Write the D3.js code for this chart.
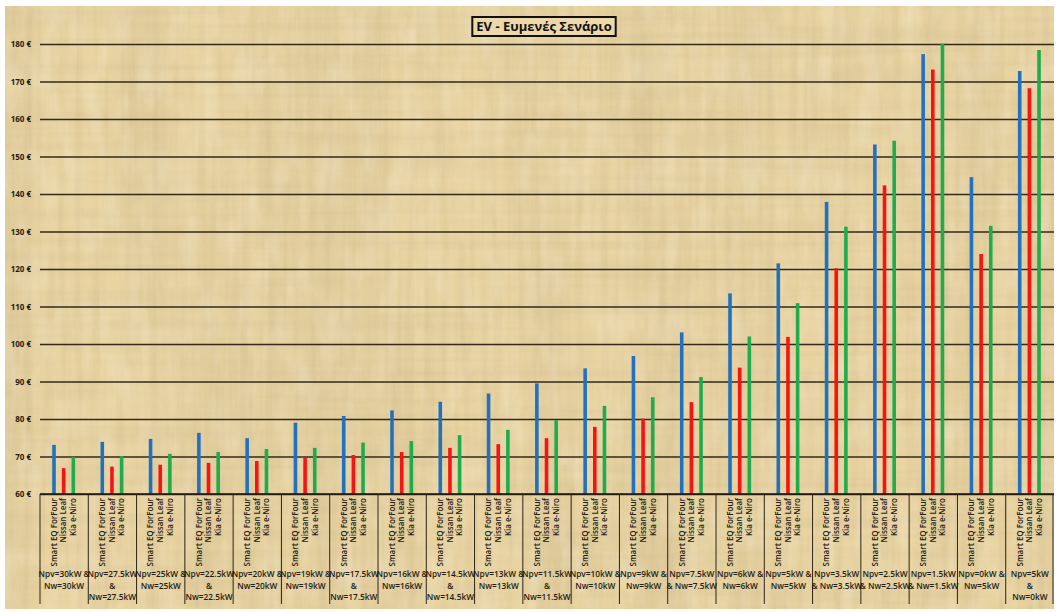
<!DOCTYPE html>
<html>
<head>
<meta charset="utf-8">
<script src="https://cdn.jsdelivr.net/npm/d3@7"></script>
<style>
  html, body { margin: 0; padding: 0; background: #ffffff; }
  svg { display: block; }
  text { font-family: "Open Sans", "Noto Sans", "DejaVu Sans", sans-serif; }
</style>
</head>
<body>
<svg id="chart" width="1056" height="613"></svg>
<script>
// Monthly cost per scenario (€), one array per vehicle
const categories = [
  "Npv=30kW &\nNw=30kW", "Npv=27.5kW\n&\nNw=27.5kW", "Npv=25kW &\nNw=25kW",
  "Npv=22.5kW\n&\nNw=22.5kW", "Npv=20kW &\nNw=20kW", "Npv=19kW &\nNw=19kW",
  "Npv=17.5kW\n&\nNw=17.5kW", "Npv=16kW &\nNw=16kW", "Npv=14.5kW\n&\nNw=14.5kW",
  "Npv=13kW &\nNw=13kW", "Npv=11.5kW\n&\nNw=11.5kW", "Npv=10kW &\nNw=10kW",
  "Npv=9kW &\nNw=9kW", "Npv=7.5kW\n& Nw=7.5kW", "Npv=6kW &\nNw=6kW",
  "Npv=5kW &\nNw=5kW", "Npv=3.5kW\n& Nw=3.5kW", "Npv=2.5kW\n& Nw=2.5kW",
  "Npv=1.5kW\n& Nw=1.5kW", "Npv=0kW &\nNw=5kW", "Npv=5kW\n&\nNw=0kW"
];
const seriesNames = ["Smart EQ ForFour", "Nissan Leaf", "Kia e-Niro"];
const smartEQ    = [73.1, 73.9, 74.7, 76.3, 74.9, 79.0, 80.8, 82.3, 84.6, 86.8, 89.5, 93.5, 96.8, 103.1, 113.5, 121.5, 137.9, 153.2, 177.3, 144.5, 172.8];
const nissanLeaf = [66.9, 67.3, 67.8, 68.3, 68.8, 69.6, 70.4, 71.2, 72.3, 73.3, 74.9, 77.9, 80.1, 84.5, 93.7, 101.9, 120.2, 142.3, 173.2, 124.0, 168.2];
const kiaENiro   = [69.9, 70.1, 70.7, 71.2, 72.0, 72.3, 73.7, 74.1, 75.7, 77.1, 79.7, 83.5, 85.8, 91.2, 102.0, 110.9, 131.3, 154.2, 180.1, 131.5, 178.4];
const yTicks = [60, 70, 80, 90, 100, 110, 120, 130, 140, 150, 160, 170, 180];
const seriesColors = ["#2271be", "#f8130f", "#1fac4c"];
const chartTitle = "EV - Ευμενές Σενάριο";

const seriesValues = [smartEQ, nissanLeaf, kiaENiro];
const rows = categories.map((c, i) => ({
  cat: c,
  values: seriesNames.map((s, k) => ({ series: s, value: seriesValues[k][i] }))
}));

const svg = d3.select("#chart");
const plot = { left: 40, right: 1054, top: 44, bottom: 494 };

// ---- papyrus-like background ----
const defs = svg.append("defs");
function fibres(id, freq, seed, rgb, a, b) {
  const f = defs.append("filter").attr("id", id)
    .attr("x", 0).attr("y", 0).attr("width", "100%").attr("height", "100%");
  f.append("feTurbulence").attr("type", "fractalNoise")
    .attr("baseFrequency", freq).attr("numOctaves", 3).attr("seed", seed);
  f.append("feColorMatrix").attr("type", "matrix").attr("values",
    `0 0 0 0 ${rgb[0]}  0 0 0 0 ${rgb[1]}  0 0 0 0 ${rgb[2]}  ${a} 0 0 0 ${b}`);
}
fibres("fibV", "0.12 0.004", 4, [0.55, 0.42, 0.22], 0.9, -0.36);
fibres("fibH", "0.004 0.10", 9, [0.58, 0.45, 0.25], 0.8, -0.32);
fibres("fibL", "0.05 0.02", 2, [1, 0.97, 0.88], 0.9, -0.38);
fibres("bandV", "0.018 0.001", 11, [0.6, 0.47, 0.26], 1.0, -0.42);

const bg = { x: 5, y: 6, w: 1049, h: 603 };
svg.append("rect").attr("x", bg.x).attr("y", bg.y).attr("width", bg.w).attr("height", bg.h)
  .attr("fill", "#e9d4a2");
[["bandV", 0.7], ["fibV", 0.6], ["fibH", 0.6], ["fibL", 0.55]].forEach(([id, op]) => {
  svg.append("rect").attr("x", bg.x).attr("y", bg.y).attr("width", bg.w).attr("height", bg.h)
    .attr("filter", `url(#${id})`).attr("opacity", op);
});

// ---- scales ----
const x0 = d3.scaleBand().domain(categories).range([plot.left, plot.right]).padding(0);
const x1 = d3.scalePoint().domain(seriesNames)
  .range([x0.bandwidth() * 0.29, x0.bandwidth() * 0.69]);
const y = d3.scaleLinear().domain([60, 180]).range([plot.bottom, plot.top]);

// ---- gridlines + y labels ----
const yAxis = d3.axisLeft(y).tickValues(yTicks)
  .tickSize(-(plot.right - plot.left)).tickPadding(6)
  .tickFormat(d => d + " €");
const gy = svg.append("g").attr("transform", `translate(${plot.left},0)`).call(yAxis);
gy.select(".domain").remove();
gy.selectAll(".tick line").attr("stroke", "#33291d").attr("stroke-width", 1.3);
gy.selectAll(".tick text").attr("font-size", 8).attr("fill", "#241c13")
  .attr("font-weight", 700).attr("x", -9);

// ---- bars ----
const barW = 3.6;
const groups = svg.append("g").selectAll("g").data(rows).join("g")
  .attr("transform", d => `translate(${x0(d.cat)},0)`);
groups.selectAll("rect").data(d => d.values).join("rect")
  .attr("x", d => x1(d.series) - barW / 2)
  .attr("width", barW)
  .attr("y", d => y(d.value))
  .attr("height", d => y(60) - y(d.value))
  .attr("fill", d => seriesColors[seriesNames.indexOf(d.series)]);

// baseline
svg.append("line").attr("x1", plot.left).attr("x2", plot.right)
  .attr("y1", y(60)).attr("y2", y(60)).attr("stroke", "#1e1810").attr("stroke-width", 1.5);

// ---- category axis: dividers, vehicle names, scenario labels ----
const catBottom = 604;
const dividers = categories.map(c => x0(c)).concat([plot.right - 1]);
svg.append("g").selectAll("line").data(dividers).join("line")
  .attr("x1", d => d).attr("x2", d => d)
  .attr("y1", plot.bottom).attr("y2", catBottom)
  .attr("stroke", "#2c241a").attr("stroke-width", 1);

const labG = svg.append("g").selectAll("g").data(rows).join("g")
  .attr("transform", d => `translate(${x0(d.cat)},0)`);
labG.selectAll("text.veh").data(seriesNames).join("text")
  .attr("class", "veh")
  .attr("transform", s => `translate(${x1(s)},${plot.bottom + 4}) rotate(-90)`)
  .attr("text-anchor", "end").attr("dy", "0.35em")
  .attr("font-size", 8).attr("font-weight", 600).attr("fill", "#231c14")
  .text(s => s);

labG.each(function(d) {
  const lines = d.cat.split("\n");
  const t = d3.select(this).append("text")
    .attr("text-anchor", "middle").attr("font-size", 8.3)
    .attr("font-weight", 600).attr("fill", "#231c14");
  lines.forEach((ln, i) => {
    t.append("tspan").attr("x", x0.bandwidth() / 2).attr("y", 577 + i * 11.5).text(ln);
  });
});

// ---- title ----
const tg = svg.append("g");
const tt = tg.append("text").attr("x", 544).attr("y", 30.5).attr("text-anchor", "middle")
  .attr("font-size", 13).attr("font-weight", 700).attr("fill", "#111").text(chartTitle);
const bb = tt.node().getBBox();
tg.insert("rect", "text").attr("x", bb.x - 4).attr("y", 17).attr("width", bb.width + 8).attr("height", 19)
  .attr("fill", "#ecd8a8").attr("stroke", "#111").attr("stroke-width", 2);
</script>
</body>
</html>
